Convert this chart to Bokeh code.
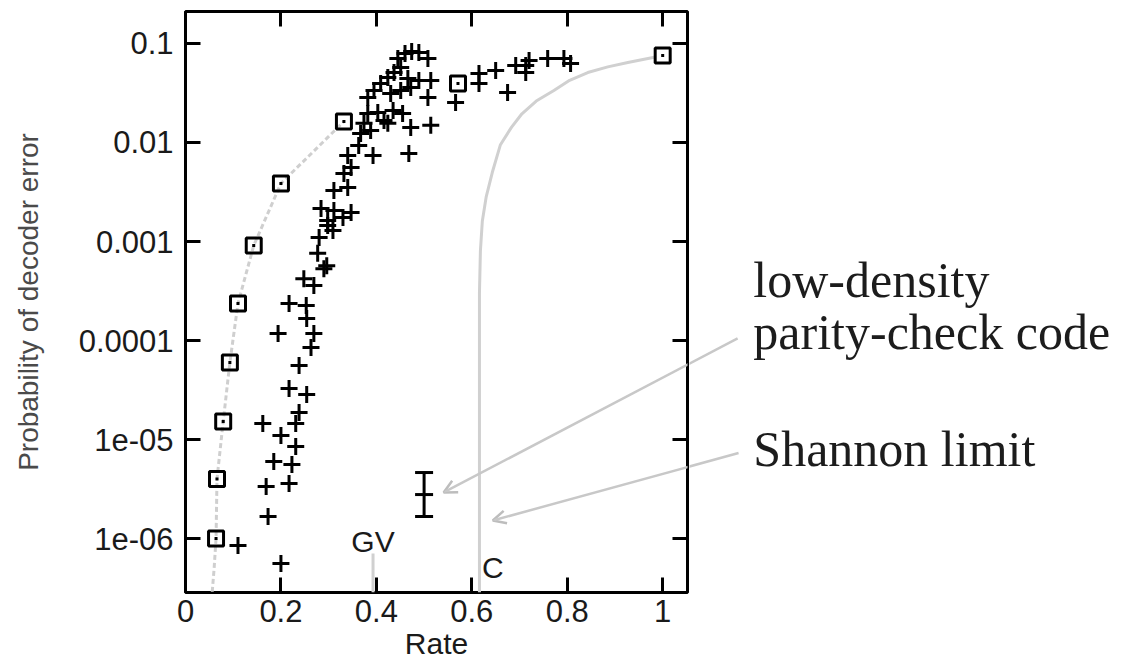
from bokeh.plotting import figure
from bokeh.layouts import row
from bokeh.models import Range1d, FixedTicker, LinearAxis, LogAxis, Label, Arrow, OpenHead
from bokeh.embed import file_html
from bokeh.resources import INLINE

# ---------------- data ----------------
cross_rate = [0.445, 0.460, 0.474, 0.489, 0.508, 0.382, 0.395, 0.409, 0.424, 0.437,
              0.451, 0.466, 0.489, 0.514, 0.472, 0.508, 0.430, 0.451, 0.615, 0.615,
              0.566, 0.650, 0.675, 0.692, 0.713, 0.720, 0.713, 0.759, 0.793, 0.807,
              0.382, 0.403, 0.435, 0.455, 0.416, 0.374, 0.472, 0.514, 0.388, 0.424,
              0.367, 0.363, 0.393, 0.468, 0.340, 0.347, 0.332, 0.340, 0.311, 0.284,
              0.311, 0.347, 0.298, 0.330, 0.298, 0.309, 0.280, 0.277, 0.290, 0.296,
              0.248, 0.269, 0.217, 0.253, 0.254, 0.194, 0.269, 0.263, 0.238, 0.217,
              0.254, 0.238, 0.162, 0.231, 0.200, 0.231, 0.185, 0.223, 0.169, 0.217,
              0.173, 0.110, 0.200]
cross_perr = [0.0705, 0.0793, 0.083, 0.081, 0.0705, 0.0285, 0.0335, 0.0394, 0.0454, 0.0509,
              0.0573, 0.0443, 0.0423, 0.0423, 0.036, 0.0285, 0.0313, 0.0335, 0.0497, 0.0394,
              0.0253, 0.0533, 0.032, 0.060, 0.060, 0.0673, 0.0509, 0.0705, 0.0705, 0.0628,
              0.0196, 0.0201, 0.021, 0.0196, 0.0167, 0.0156, 0.0142, 0.0149, 0.0132, 0.0156,
              0.0123, 0.00933, 0.0074, 0.00775, 0.0074, 0.00558, 0.00486, 0.00351, 0.00327, 0.00215,
              0.00206, 0.00196, 0.00163, 0.00175, 0.00145, 0.00129, 0.0011, 7.6e-4, 5.3e-4, 5.7e-4,
              4.2e-4, 3.6e-4, 2.37e-4, 2.26e-4, 1.67e-4, 1.18e-4, 1.18e-4, 8.5e-5, 5.6e-5, 3.27e-5,
              2.85e-5, 1.87e-5, 1.45e-5, 1.45e-5, 1.10e-5, 8.5e-6, 6.0e-6, 5.6e-6, 3.35e-6, 3.6e-6,
              1.67e-6, 8.5e-7, 5.6e-7]

square_rate = [0.064, 0.066, 0.079, 0.093, 0.110, 0.143, 0.200, 0.332, 0.571, 1.0]
square_perr = [1.0e-6, 4.0e-6, 1.52e-5, 6.0e-5, 2.37e-4, 9.1e-4, 3.86e-3, 0.0163, 0.0394, 0.0757]

gv_curve_rate = [0.056, 0.060, 0.064, 0.066, 0.079, 0.093, 0.110, 0.143, 0.200, 0.332]
gv_curve_perr = [2.9e-7, 5.0e-7, 1.0e-6, 4.0e-6, 1.52e-5, 6.0e-5, 2.37e-4, 9.1e-4, 3.86e-3, 0.0163]

shannon_rate = [0.616, 0.616, 0.618, 0.622, 0.630, 0.643, 0.660, 0.683, 0.705, 0.735, 0.772,
                0.805, 0.843, 0.885, 0.927, 0.985]
shannon_perr = [2.85e-7, 3e-4, 8e-4, 1.6e-3, 2.8e-3, 5e-3, 0.0095, 0.0142, 0.0195, 0.0262, 0.0335,
                0.0425, 0.0509, 0.0580, 0.0643, 0.0730]

gv_rate = 0.393
gv_line_top = 7.05e-7

ldpc_rate = [0.50]
ldpc_perr = [2.78e-6]
ldpc_low = [1.67e-6]
ldpc_high = [4.64e-6]

x_ticks = [0, 0.2, 0.4, 0.6, 0.8, 1]
x_tick_labels = ["0", "0.2", "0.4", "0.6", "0.8", "1"]
y_ticks = [1e-6, 1e-5, 1e-4, 1e-3, 1e-2, 1e-1]
y_tick_labels = ["1e-06", "1e-05", "0.0001", "0.001", "0.01", "0.1"]

annotation_texts = ["low-density", "parity-check code", "Shannon limit"]

# ---------------- layout / style ----------------
X_MIN, X_MAX = 0.0, 1.052
Y_MIN, Y_MAX = 2.85e-7, 0.2104

SANS = "Liberation Sans"
SERIF = "Liberation Serif"
TICK_COLOR = "#1a1a1a"

H = 667
TOP_B, BOT_B = 11, 75
LEFT_B, RIGHT_B = 185, 2
FRAME_W = 502
W1 = LEFT_B + FRAME_W + RIGHT_B
W2 = 1122 - W1
PX_PER_RATE = FRAME_W / (X_MAX - X_MIN)
X2_START = X_MAX + RIGHT_B / PX_PER_RATE
X2_END = X2_START + W2 / PX_PER_RATE

p = figure(width=W1, height=H,
           min_border_left=LEFT_B, min_border_right=RIGHT_B, min_border_top=TOP_B, min_border_bottom=BOT_B,
           x_range=Range1d(X_MIN, X_MAX), y_range=Range1d(Y_MIN, Y_MAX),
           y_axis_type="log", output_backend="svg", toolbar_location=None,
           background_fill_color="white", border_fill_color="white")
p.grid.visible = False
p.outline_line_color = "black"
p.outline_line_width = 3
p.outline_line_alpha = 1.0

xa = p.xaxis[0]
xa.ticker = FixedTicker(ticks=x_ticks)
xa.major_label_overrides = {t: l for t, l in zip(x_ticks, x_tick_labels)}
ya = p.yaxis[0]
ya.ticker = FixedTicker(ticks=y_ticks)
ya.major_label_overrides = {t: l for t, l in zip(y_ticks, y_tick_labels)}
for ax in (xa, ya):
    ax.axis_line_color = None
    ax.major_tick_in = 15
    ax.major_tick_out = 0
    ax.major_tick_line_width = 3
    ax.major_tick_line_color = "black"
    ax.minor_tick_line_color = None
    ax.major_label_text_font = SANS
    ax.major_label_text_font_size = "31px"
    ax.major_label_text_color = TICK_COLOR
    ax.axis_label_text_font = SANS
    ax.axis_label_text_font_style = "normal"
xa.major_label_standoff = 7
ya.major_label_standoff = 12
xa.axis_label = "Rate"
xa.axis_label_text_font_size = "30px"
xa.axis_label_text_color = TICK_COLOR
xa.axis_label_standoff = 2
ya.axis_label = "Probability of decoder error"
ya.axis_label_text_font_size = "28px"
ya.axis_label_text_color = "#4a4a4a"
ya.axis_label_standoff = 32

top = LinearAxis(ticker=FixedTicker(ticks=x_ticks))
right = LogAxis(ticker=FixedTicker(ticks=y_ticks))
for ax in (top, right):
    ax.axis_line_color = None
    ax.major_tick_in = 15
    ax.major_tick_out = 0
    ax.major_tick_line_width = 3
    ax.major_tick_line_color = "black"
    ax.minor_tick_line_color = None
    ax.major_label_text_font_size = "0px"
    ax.major_label_standoff = 0
top.major_label_overrides = {t: "" for t in x_ticks}
right.major_label_overrides = {t: "" for t in y_ticks}
p.add_layout(top, "above")
p.add_layout(right, "right")

# curves
p.line(gv_curve_rate, gv_curve_perr, line_color="#cfcfcf", line_width=3, line_dash="5 3")
p.line(shannon_rate, shannon_perr, line_color="#d0d0d0", line_width=3)
p.segment(x0=[gv_rate], y0=[Y_MIN], x1=[gv_rate], y1=[gv_line_top], line_color="#d0d0d0", line_width=3)

# arrows (start in the text area, end at the marks)
arrows = [((1.157, 1.05e-4), (0.541, 2.92e-6)),
          ((1.159, 7.3e-6), (0.644, 1.52e-6))]
ARROW_COLOR = "#c8c8c8"
for (xs, ys), (xe, ye) in arrows:
    p.add_layout(Arrow(end=OpenHead(size=13, line_color="#bdbdbd", line_width=2.5),
                       x_start=xs, y_start=ys, x_end=xe, y_end=ye,
                       line_color=ARROW_COLOR, line_width=2.5))

# markers
p.scatter(square_rate, square_perr, marker="square", size=15, fill_color=None,
          line_color="black", line_width=3)
p.scatter(square_rate, square_perr, marker="square", size=3, fill_color="black", line_color=None)
p.scatter(cross_rate, cross_perr, marker="cross", size=17, line_color="black", line_width=3)

# LDPC error bar
p.segment(x0=ldpc_rate, y0=ldpc_low, x1=ldpc_rate, y1=ldpc_high, line_color="black", line_width=3)
p.scatter(ldpc_rate * 3, ldpc_low + ldpc_perr + ldpc_high, marker="dash", size=18,
          line_color="black", line_width=3)

p.add_layout(Label(x=0.393, y=9.33e-7, text="GV", text_font=SANS, text_font_size="30px",
                   text_color=TICK_COLOR, text_align="center", text_baseline="middle"))
p.add_layout(Label(x=0.644, y=5.09e-7, text="C", text_font=SANS, text_font_size="30px",
                   text_color=TICK_COLOR, text_align="center", text_baseline="middle"))

# ---------------- text area to the right (same scales, continued) ----------------
q = figure(width=W2, height=H,
           min_border_left=0, min_border_right=0, min_border_top=TOP_B, min_border_bottom=BOT_B,
           x_range=Range1d(X2_START, X2_END), y_range=Range1d(Y_MIN, Y_MAX),
           y_axis_type="log", x_axis_location=None, y_axis_location=None,
           output_backend="svg", toolbar_location=None,
           background_fill_color="white", border_fill_color="white")
q.grid.visible = False
q.outline_line_color = None
for (xs, ys), (xe, ye) in arrows:
    q.add_layout(Arrow(end=None, x_start=xs, y_start=ys, x_end=xe, y_end=ye,
                       line_color=ARROW_COLOR, line_width=2.5))
for txt, yy in zip(annotation_texts, [4.13e-4, 1.205e-4, 8.11e-6]):
    q.add_layout(Label(x=1.19, y=yy, text=txt, text_font=SERIF, text_font_size="50px",
                       text_color="#1c1c1c", text_align="left", text_baseline="alphabetic"))

layout = row(p, q, spacing=0)
open("out.html", "w").write(file_html(layout, INLINE))
